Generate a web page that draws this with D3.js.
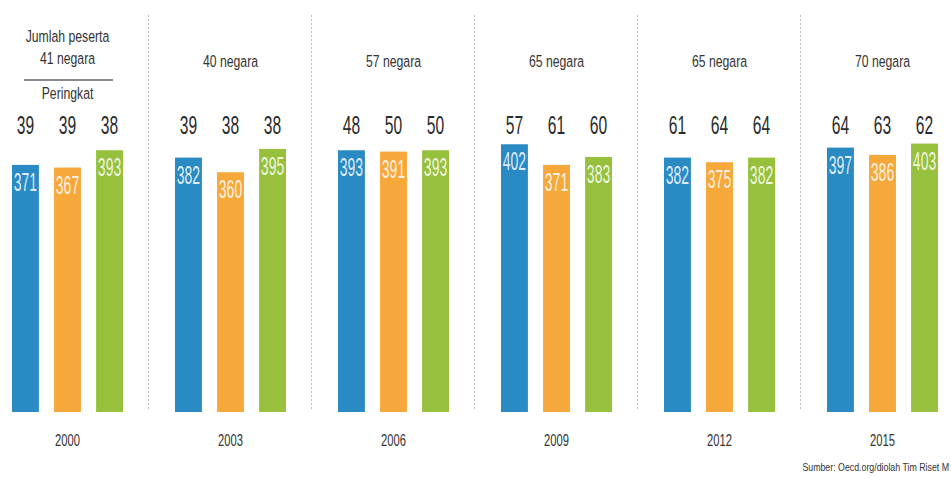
<!DOCTYPE html>
<html>
<head>
<meta charset="utf-8">
<script src="https://cdn.jsdelivr.net/npm/d3@7"></script>
<style>
  body { margin: 0; background: #fff; }
  text { font-family: 'Liberation Sans', Arial, sans-serif; }
</style>
</head>
<body>
<div id="container"></div>
<script>
var w = 951,
    h = 478;

// data
var years = ['2000', '2003', '2006', '2009', '2012', '2015'];
var peserta = ['41 negara', '40 negara', '57 negara', '65 negara', '65 negara', '70 negara'];
var subjects = ['a', 'b', 'c'];
var colors = ['#2a8ac3', '#f7a83b', '#97c13c'];
var scores = [
    [371, 367, 393],
    [382, 360, 395],
    [393, 391, 393],
    [402, 371, 383],
    [382, 375, 382],
    [397, 386, 403]
];
var ranks = [
    [39, 39, 38],
    [39, 38, 38],
    [48, 50, 50],
    [57, 61, 60],
    [61, 64, 64],
    [64, 63, 62]
];

var svg = d3.select('#container')
    .append('svg')
    .attr('width', w)
    .attr('height', h);

var x0 = d3.scaleBand().domain(years).range([-14, 964]).padding(0);
var x1 = d3.scaleBand().domain(subjects).range([0, 111]).paddingInner(0.36);
var y = d3.scaleLinear().domain([0, 400]).range([412, 145.6]);

// condensed text: squeeze horizontally around its anchor
var narrow = function(sel, sx, xf, yf) {
    return sel.attr('transform', function(d, i) {
        return 'translate(' + xf(d, i) + ',' + yf(d, i) + ') scale(' + sx + ',1)';
    });
};

// dotted dividers
svg.selectAll('.divider')
    .data(years.slice(1))
    .enter()
    .append('line')
    .attr('class', 'divider')
    .attr('x1', function(d) { return x0(d) - 0.5; })
    .attr('x2', function(d) { return x0(d) - 0.5; })
    .attr('y1', 15)
    .attr('y2', 410)
    .attr('stroke', '#bdbdbd')
    .attr('stroke-width', 1)
    .attr('stroke-dasharray', '2,2');

var groups = svg.selectAll('.year')
    .data(years)
    .enter()
    .append('g')
    .attr('class', 'year')
    .attr('transform', function(d) {
        return 'translate(' + (x0(d) + x0.bandwidth() / 2 - 55.5) + ',0)';
    });

groups.selectAll('rect')
    .data(function(d, i) { return scores[i]; })
    .enter()
    .append('rect')
    .attr('x', function(d, j) { return x1(subjects[j]); })
    .attr('y', function(d) { return y(d); })
    .attr('width', x1.bandwidth())
    .attr('height', function(d) { return y(0) - y(d); })
    .attr('fill', function(d, j) { return colors[j]; });

// values inside bars
narrow(groups.selectAll('.val')
    .data(function(d, i) { return scores[i]; })
    .enter()
    .append('text')
    .attr('class', 'val')
    .attr('text-anchor', 'middle')
    .attr('font-size', 25)
    .attr('fill', '#fff')
    .attr('fill-opacity', 0.85)
    .text(function(d) { return d; }),
    0.56,
    function(d, j) { return x1(subjects[j]) + x1.bandwidth() / 2; },
    function(d) { return y(d) + 26; });

// ranks above
narrow(groups.selectAll('.rank')
    .data(function(d, i) { return ranks[i]; })
    .enter()
    .append('text')
    .attr('class', 'rank')
    .attr('text-anchor', 'middle')
    .attr('font-size', 26)
    .attr('fill', '#2b2b2b')
    .text(function(d) { return d; }),
    0.6,
    function(d, j) { return x1(subjects[j]) + x1.bandwidth() / 2; },
    function() { return 134; });

// participants header
narrow(groups.append('text')
    .attr('text-anchor', 'middle')
    .attr('font-size', 17)
    .attr('fill', '#333')
    .text(function(d, i) { return peserta[i]; }),
    0.72,
    function() { return 55.5; },
    function(d, i) { return i === 0 ? 64 : 67; });

// year labels
narrow(groups.append('text')
    .attr('text-anchor', 'middle')
    .attr('font-size', 16)
    .attr('fill', '#333')
    .text(function(d) { return d; }),
    0.7,
    function() { return 55.5; },
    function() { return 446; });

// first group extras
var first = groups.filter(function(d, i) { return i === 0; });
narrow(first.append('text')
    .attr('text-anchor', 'middle')
    .attr('font-size', 17)
    .attr('fill', '#333')
    .text('Jumlah peserta'),
    0.72,
    function() { return 55.5; },
    function() { return 42; });
first.append('line')
    .attr('x1', 12)
    .attr('x2', 101)
    .attr('y1', 80)
    .attr('y2', 80)
    .attr('stroke', '#8a8a8a')
    .attr('stroke-width', 2);
narrow(first.append('text')
    .attr('text-anchor', 'middle')
    .attr('font-size', 17)
    .attr('fill', '#333')
    .text('Peringkat'),
    0.72,
    function() { return 55.5; },
    function() { return 99; });

narrow(svg.append('text')
    .attr('text-anchor', 'end')
    .attr('font-size', 11)
    .attr('fill', '#333')
    .text('Sumber: Oecd.org/diolah Tim Riset M'),
    0.8,
    function() { return 949; },
    function() { return 471; });
</script>
</body>
</html>
